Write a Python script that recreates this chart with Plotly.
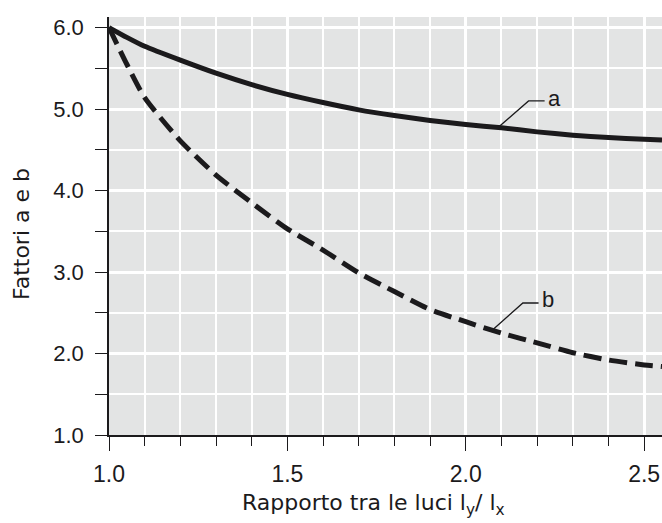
"""
Fattori a e b in funzione del rapporto tra le luci.
"""
import plotly.graph_objects as go

ratio = [1.0, 1.05, 1.1, 1.2, 1.3, 1.4, 1.5, 1.6, 1.7, 1.8, 1.9, 2.0, 2.1, 2.2, 2.3, 2.4, 2.5, 2.55]
factor_a = [6.00, 5.88, 5.77, 5.60, 5.44, 5.30, 5.18, 5.08, 4.99, 4.92, 4.86, 4.81, 4.77, 4.72, 4.68, 4.65, 4.63, 4.62]
factor_b = [6.00, 5.55, 5.14, 4.61, 4.19, 3.85, 3.53, 3.27, 2.99, 2.76, 2.54, 2.39, 2.25, 2.13, 2.01, 1.92, 1.86, 1.84]

# leader lines for the curve labels (start on curve, bend, end)
leader_a_x = [2.092, 2.176, 2.221]
leader_a_y = [4.78, 5.10, 5.10]
leader_b_x = [2.078, 2.160, 2.204]
leader_b_y = [2.30, 2.62, 2.62]
label_a = ("a", 2.226, 5.13)
label_b = ("b", 2.208, 2.66)

x_title = "Rapporto tra le luci l<sub>y</sub>/ l<sub>x</sub>"
y_title = "Fattori a e b"

INK = "#1b1a1c"
FONT = "Liberation Sans, Arial, sans-serif"
TITLE_FONT = "DejaVu Sans, Liberation Sans, sans-serif"

fig = go.Figure()

fig.add_trace(go.Scatter(
    x=ratio, y=factor_a, mode="lines",
    line=dict(color=INK, width=5, shape="spline", smoothing=0.6),
    showlegend=False
))
fig.add_trace(go.Scatter(
    x=ratio, y=factor_b, mode="lines",
    line=dict(color=INK, width=5, shape="spline", smoothing=0.6, dash="18px,8px"),
    showlegend=False
))

for lx, ly in [(leader_a_x, leader_a_y), (leader_b_x, leader_b_y)]:
    fig.add_trace(go.Scatter(
        x=lx, y=ly, mode="lines",
        line=dict(color=INK, width=1.3),
        showlegend=False, hoverinfo="skip"
    ))

for text, tx, ty in [label_a, label_b]:
    fig.add_annotation(
        x=tx, y=ty, text=text, showarrow=False,
        xanchor="left", yanchor="middle",
        font=dict(size=22, color=INK, family=FONT)
    )

# axis titles placed as annotations so they sit where the original has them
fig.add_annotation(
    x=0.479, y=-0.167, xref="paper", yref="paper", text=x_title,
    showarrow=False, xanchor="center", yanchor="middle",
    font=dict(size=22, color=INK, family=TITLE_FONT)
)
fig.add_annotation(
    x=-0.158, y=0.48, xref="paper", yref="paper", text=y_title,
    showarrow=False, textangle=-90, xanchor="center", yanchor="middle",
    font=dict(size=22, color=INK, family=TITLE_FONT)
)

fig.update_layout(
    width=662, height=523,
    margin=dict(l=109, r=0, t=17, b=88),
    paper_bgcolor="white",
    plot_bgcolor="#e3e4e4",
    font=dict(family=FONT, color=INK, size=22),
    xaxis=dict(
        range=[1.0, 2.55], tickmode="linear", tick0=1.0, dtick=0.5,
        tickformat=".1f", ticks="outside", ticklen=14, tickwidth=1.3, tickcolor=INK,
        tickfont=dict(size=23), ticklabelstandoff=4,
        showline=True, linecolor=INK, linewidth=1.5,
        showgrid=True, gridcolor="white", gridwidth=3,
        zeroline=False,
        minor=dict(dtick=0.1, ticks="outside", ticklen=9, tickwidth=1.3, tickcolor=INK,
                   showgrid=True, gridcolor="white", gridwidth=1.6),
    ),
    yaxis=dict(
        range=[1.0, 6.13], tickmode="linear", tick0=1.0, dtick=1.0,
        tickformat=".1f", ticks="outside", ticklen=12, tickwidth=1.3, tickcolor=INK,
        tickfont=dict(size=22), ticklabelstandoff=7,
        showline=True, linecolor=INK, linewidth=1.5,
        showgrid=True, gridcolor="white", gridwidth=3,
        zeroline=False,
        minor=dict(dtick=0.5, ticks="outside", ticklen=12, tickwidth=1.3, tickcolor=INK,
                   showgrid=True, gridcolor="white", gridwidth=1.6),
    ),
)

fig.write_html("out.html", config={"displayModeBar": False},
               post_script="document.body.style.margin='0';")
